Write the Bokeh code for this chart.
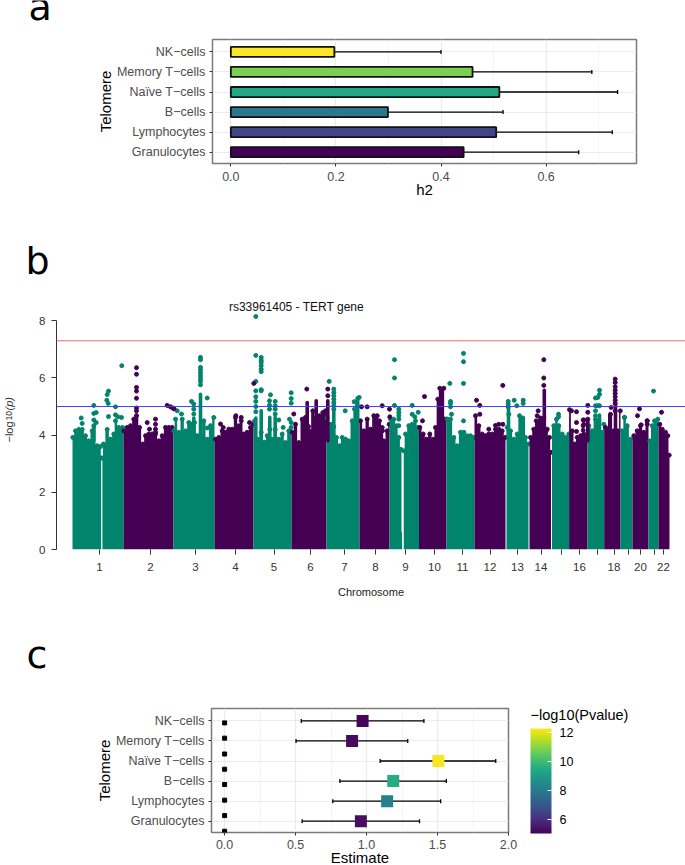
from bokeh.plotting import figure
from bokeh.layouts import column, row
from bokeh.models import Label, Span, FixedTicker, ColorBar, LinearColorMapper
from bokeh.palettes import Viridis256
from bokeh.embed import file_html
from bokeh.resources import INLINE
from math import pi

# ---------- data ----------
cell_labels = ["Granulocytes", "Lymphocytes", "B−cells", "Naïve T−cells", "Memory T−cells", "NK−cells"]
h2_value = [0.443, 0.505, 0.299, 0.511, 0.460, 0.197]
h2_upper = [0.662, 0.726, 0.518, 0.736, 0.687, 0.400]
h2_color = ["#440154", "#414487", "#2A788E", "#22A884", "#7AD151", "#FDE725"]

est_value = [0.960, 1.145, 1.188, 1.506, 0.898, 0.972]
est_lower = [0.546, 0.762, 0.812, 1.096, 0.503, 0.540]
est_upper = [1.373, 1.522, 1.562, 1.910, 1.290, 1.404]
est_pval = [5.3, 8.2, 9.5, 12.2, 5.2, 5.1]
zero_rows = [4.9, 4.14, 3.35, 2.59, 1.83, 1.05, 0.28, -0.5]

# Genome positions are in bins of roughly 4.8 Mb, counted from the start of chromosome 1
chrom_start = [0, 51, 101, 142, 181, 219, 254, 287, 317, 346.5, 374, 402, 434, 457, 479.5, 496.6, 515, 531.7, 548, 560, 576, 586]
chrom_end = [51, 101, 142, 181, 219, 254, 287, 317, 346.5, 374, 402, 433, 456, 478.5, 496.6, 515, 531.7, 548, 560, 576, 586, 597]
chrom_tick = [27, 78, 123, 163, 201.5, 238, 272, 303, 333, 362, 390, 417.5, 445, 468.5, 489, 507, 525, 541.5, 555.6, 568, 581.5, 591]
hidden_tick_labels = [15, 17, 19, 21]

chr1 = [(0.3,3.92),(3,4.15),(6.3,4.2),(9.7,4.2),(13,3.98),(16.3,3.8),(19.7,4.15),(21.3,4.33),(24.7,3.63),(28,3.6),(28.6,3.2),(28.7,0),(29.8,0),(30,3.2),(31,3.69),(34.7,4.2),(38,3.86),(41.3,4.04),(43,4.5),(46.3,4.27),(50,4.27)]
chr2 = [(51.3,4.15),(54.7,4.27),(58,4.33),(61.3,4.56),(64,4.68),(67,4.27),(70.3,3.69),(73,3.98),(76.3,4.04),(79.7,4.04),(83,4.1),(86.3,3.8),(89.7,3.98),(93,4.27),(96.3,4.27),(99.7,4.27)]
chr3 = [(101.3,4.15),(103,4.56),(106.3,4.1),(109.7,4.56),(113,4.15),(116.3,4.44),(119.7,4.39),(122,4.44),(124.7,3.98),(128,4.0),(131.3,4.5),(134.7,3.86),(138,4.33),(141.3,4.62)]
chr4 = [(143,3.86),(146.3,3.92),(149.7,4.15),(153,4.1),(156.3,4.21),(159.7,4.21),(163,4.62),(166.3,4.33),(168.7,4.5),(171.3,4.04),(174.7,4.1),(178,4.27),(180.7,4.39)]
chr5 = [(182,4.5),(185.3,3.86),(188.7,4.1),(192,3.75),(194.7,3.98),(197.3,4.2),(199.7,3.86),(202.7,4.2),(206.3,3.86),(209.7,4.04),(213,3.74),(216.3,4.15),(218.7,4.27)]
chr6 = [(219.7,4.1),(223,4.38),(226.3,3.74),(229.7,4.56),(233,4.62),(236,4.3),(237,4.15),(240.3,4.85),(243.7,4.6),(247,4.68),(250.3,4.79),(253,4.85)]
chr7 = [(254.7,4.6),(258,4.38),(261.3,4.3),(264,3.92),(267,3.63),(269.7,3.92),(273,3.86),(276.3,3.8),(279.7,4.5),(282,4.91),(284.7,5.03),(286.7,5.32)]
chr8 = [(288,4.5),(291.3,4.15),(294.7,4.56),(298,4.21),(301.3,4.68),(304.7,4.68),(307,4.5),(310,4.15),(311.3,3.8),(314.7,4.15),(316.7,4.38)]
chr9 = [(318,4.56),(321.3,4.56),(324,4.33),(326.3,3.92),(328.5,3.5),(329.5,0.6),(329.7,0),(331.2,0),(331.3,3.45),(333,4.04),(336.3,4.33),(339.7,4.38),(343,4.5),(345.3,4.27)]
chr10 = [(347.3,4.27),(350.7,4.04),(354,3.86),(357.3,4.04),(360.7,3.86),(363,4.27),(365.3,5.26),(367.3,5.64),(371.3,5.64),(372,4.56),(373.6,4.56)]
chr11 = [(374.7,4.56),(378,4.56),(381.3,3.92),(384.7,3.63),(388,4.1),(391.3,4.1),(394.7,3.98),(398,3.98),(401.3,3.92)]
chr12 = [(403,4.68),(406.3,4.33),(409.7,4.04),(413,3.98),(416.3,4.04),(419.7,4.04),(423,4.21),(426.3,4.21),(429.7,4.15),(432.8,3.92)]
chr13 = [(434.7,4.27),(436.3,4.73),(438,4.15),(441.3,3.86),(444.7,4.04),(447,4.68),(450.3,4.6),(453,3.92),(455.8,3.69)]
chr14 = [(458,3.92),(461.3,4.21),(463.7,4.5),(468,4.56),(471.3,4.6),(473.7,4.15),(477,3.92),(478.4,3.4)]
chr15 = [(481.3,4.33),(484,4.56),(486.3,4.33),(489.7,4.04),(493,3.92),(496.3,4.04)]
chr16 = [(497,4.89),(499.7,4.15),(502.3,3.69),(504.7,3.92),(508,3.98),(511.3,4.04),(513,3.98)]
chr17 = [(516.3,4.33),(519.7,4.15),(523,4.56),(526.3,4.5),(529.7,4.1),(531.3,4.38)]
chr18 = [(533,4.27),(538,4.73),(541.3,4.15),(545.3,4.15),(547.8,4.85)]
chr19 = [(549.7,4.15),(552,4.62),(554.7,4.33),(558,3.86)]
chr20 = [(561.3,3.98),(564.7,4.15),(568,4.33),(571.3,4.1),(574.7,4.5)]
chr21 = [(577.3,3.8),(579.7,4.33),(582,4.5),(585.3,4.56)]
chr22 = [(587.3,4.38),(589.7,4.21),(593,4.1),(595.3,3.98),(596.7,3.3)]
chrom_tops = [chr1, chr2, chr3, chr4, chr5, chr6, chr7, chr8, chr9, chr10, chr11, chr12, chr13, chr14, chr15, chr16, chr17, chr18, chr19, chr20, chr21, chr22]

# unbroken runs of hits: genome bin, highest value
odd_runs = [(21.3,4.33),(128,5.43),(121.3,4.6),(183.3,4.6),(188.7,4.85),(197.3,4.62),(202.7,4.62),(261.3,4.9),(284.7,5.3),(436,4.95),(450.7,4.6),(523,4.6),(527,4.7)]
even_runs = [(64,4.7),(234.7,5.14),(243.7,5.2),(255.3,5.2),(369,5.3),(471.8,5.57),(543,5.09),(515.3,4.5)]

odd_hits = [(49.3,6.43),(36,5.54),(34.7,5.42),(34.3,5.22),(35.7,5.11),(36,4.65),(21.3,5.04),(23.7,4.79),(21.3,4.76),(21.3,4.53),(23.7,4.44),(8.7,4.6),(9.7,4.41),(43,4.99),(43,4.71),(45.3,4.64),(49,4.62),
    (128,6.72),(128,6.64),(128,6.37),(128,6.27),(128,6.17),(128,6.08),(128,5.98),(128,5.88),(128,5.76),(134.7,5.3),(119,5.18),(121.3,5.09),(121.3,4.91),(121.3,4.74),(104.7,4.85),(109,4.74),(134.7,4.25),
    (183.3,8.15),(183.3,6.79),(188.7,6.72),(188.7,6.62),(188.7,6.54),(188.7,6.43),(188.7,6.31),(188.7,6.22),(183.3,5.88),(183.3,5.55),(183.3,5.34),(183.3,5.18),(183.3,5.0),(183.3,4.82),(188.7,5.59),(188.7,5.55),(198,5.41),(197,5.2),(197,5.05),(197,4.91),(202.7,5.18),(202.7,5.03),(202.7,4.91),(202.7,4.74),(206.3,4.53),(210.7,4.27),(218.7,5.48),(218.7,5.28),(218.7,5.12),(217,4.56),(218.7,4.44),
    (256.7,5.88),(261.3,5.61),(261.3,5.49),(261.3,5.38),(261.3,5.26),(261.3,5.14),(261.3,5.03),(261.3,4.91),(281.7,5.17),(272.7,4.85),
    (322,6.64),(322,6.0),(322,5.04),(326.3,4.91),(326.3,4.79),(326.3,4.68),(326.3,4.56),(326.3,4.33),(339.7,5.04),(339.7,4.73),(342.3,4.64),(345.7,4.8),
    (377.3,5.81),(378,5.18),(378,5.11),(378,4.99),(379,4.73),(391,6.86),(391,6.57),(391,5.81),(391,4.5),
    (435.7,5.18),(435.7,5.09),(435.7,4.99),(441.7,5.22),(444.3,5.03),(450.7,5.22),(450.7,5.11),(486,4.73),(486,4.64),
    (527,5.57),(527,5.43),(525.3,5.32),(523,5.3),(523,5.03),(525.3,5.03),(527,5.03),(523,4.85),(523,4.68),(552,4.62),(581,5.54)]
even_hits = [(64,6.36),(64,6.13),(64,5.67),(64,5.54),(64,5.29),(64,4.95),(64,4.85),(74.7,4.44),(83,4.56),(83,4.38),(83,4.21),(83,4.04),(77,4.21),(94.7,5.04),(98,4.99),(100.3,4.95),(101.5,4.92),
    (163.3,4.68),(168.7,4.62),(177,4.44),(148,4.39),(150.7,4.27),(181.3,5.81),
    (234.3,5.61),(221.3,4.74),(255.3,5.61),(255.3,5.38),(289,4.99),(294.7,4.99),(309.7,5.03),(309.7,4.27),(317,4.91),(317.3,4.64),
    (352,5.35),(350,4.5),(404,5.22),(407.3,5.04),(407.3,4.73),(416.3,4.21),(430.3,5.74),(423,4.34),(426.3,4.38),(430.3,4.38),
    (471.3,6.64),(471.3,6.0),(471.3,5.74),(465.7,4.85),(464.7,4.68),(468,4.6),(474.7,4.21),
    (499,4.85),(504,4.82),(504,4.44),(504,4.13),(511.3,4.53),(511.3,4.38),(515.3,5.04),(515.3,4.8),(515.3,4.56),(510.7,4.53),(510.7,4.33),(510.7,4.17),
    (542.7,5.96),(542.7,5.84),(542.7,5.69),(542.7,5.57),(542.7,5.46),(542.7,5.34),(542.7,5.22),(542.7,5.11),(538.7,4.97),(542.7,4.85),(567,4.92),(565,4.68),(568.7,4.36),(574.7,4.5),(574.7,4.38),(589,4.8)]

genome_wide = 7.3
suggestive = 5
TEAL = "#00846B"
PURPLE = "#440154"
SANS = "Liberation Sans"

rows = list(range(6))


def theme(p, xlabel, ylabel):
    p.outline_line_color = "#7a7a7a"
    p.outline_line_width = 1.5
    p.xgrid.grid_line_color = "#ebebeb"
    p.ygrid.grid_line_color = "#ebebeb"
    p.xgrid.grid_line_width = 1.2
    p.ygrid.grid_line_width = 1.2
    p.xgrid.minor_grid_line_color = "#f0f0f0"
    p.xgrid.minor_grid_line_width = 0.7
    p.xaxis.axis_label = xlabel
    p.yaxis.axis_label = ylabel
    for ax in (p.xaxis[0], p.yaxis[0]):
        ax.axis_line_color = None
        ax.major_tick_line_color = "#333333"
        ax.major_tick_in = 0
        ax.major_tick_out = 3
        ax.minor_tick_line_color = None
        ax.major_label_text_font = SANS
        ax.major_label_text_font_size = "12.5px"
        ax.major_label_text_color = "#4d4d4d"
        ax.axis_label_text_font = SANS
        ax.axis_label_text_font_style = "normal"
        ax.axis_label_text_font_size = "15px"
        ax.axis_label_text_color = "#000000"
    p.yaxis.ticker = FixedTicker(ticks=rows)
    p.yaxis.major_label_overrides = {r: c for r, c in zip(rows, cell_labels)}
    p.yaxis.major_label_standoff = 4
    p.yaxis.axis_label_standoff = 0


def strip(width, height):
    """A bare figure whose frame fills it, for texts outside the plots; its units are pixels from the top left."""
    s = figure(width=width, height=height, output_backend="svg", toolbar_location=None,
               x_range=(0, width), y_range=(height, 0),
               min_border_left=0, min_border_right=0, min_border_top=0, min_border_bottom=0,
               frame_width=width, frame_height=height)
    s.axis.visible = False
    s.grid.visible = False
    s.outline_line_color = None
    return s


def letter(text, x, y, width, height):
    s = strip(width, height)
    s.add_layout(Label(x=x, y=y, text=text, text_font="DejaVu Sans", text_font_size="38px",
                       text_color="#000000", text_baseline="alphabetic"))
    return s


# ---------- panel a ----------
a = figure(width=685, height=198, output_backend="svg", toolbar_location=None,
           x_range=(-0.0349, 0.772), y_range=(-0.563, 5.618),
           min_border_left=212, min_border_right=49, min_border_top=9, min_border_bottom=65,
           frame_width=424, frame_height=124)
theme(a, "h2", "Telomere")
a.xaxis.ticker = FixedTicker(ticks=[0, 0.2, 0.4, 0.6], minor_ticks=[0.1, 0.3, 0.5, 0.7])
a.xaxis.major_label_overrides = {0: "0.0", 0.2: "0.2", 0.4: "0.4", 0.6: "0.6"}
a.xaxis.major_label_standoff = 4
a.xaxis.axis_label_standoff = -3
a.segment(h2_value, rows, h2_upper, rows, line_color="#000000", line_width=1.3)
a.segment(h2_upper, [r - 0.1 for r in rows], h2_upper, [r + 0.1 for r in rows], line_color="#000000", line_width=1.3)
a.hbar(y=rows, left=0, right=h2_value, height=0.5, fill_color=h2_color, line_color="#111111", line_width=1.8)

# ---------- panel b ----------
b = figure(width=667, height=320, output_backend="svg", toolbar_location=None,
           x_range=(-16, 613), y_range=(0, 8.71),
           min_border_left=38, min_border_right=0, min_border_top=0, min_border_bottom=71,
           frame_width=629, frame_height=249)
b.outline_line_color = None
b.grid.visible = False
for i, top in enumerate(chrom_tops):
    colour = TEAL if i % 2 == 0 else PURPLE
    xs = [chrom_start[i]] + [t[0] for t in top] + [chrom_end[i]]
    ys = [top[0][1]] + [t[1] for t in top] + [top[-1][1]]
    b.varea_step(x=xs, y1=[0] * len(xs), y2=ys, step_mode="center", fill_color=colour)
    b.scatter([t[0] for t in top if t[1] > 1], [t[1] for t in top if t[1] > 1], size=4, color=colour)
b.segment([r[0] for r in odd_runs], [3.8] * len(odd_runs), [r[0] for r in odd_runs], [r[1] for r in odd_runs],
          line_color=TEAL, line_width=3.6, line_cap="round")
b.segment([r[0] for r in even_runs], [3.8] * len(even_runs), [r[0] for r in even_runs], [r[1] for r in even_runs],
          line_color=PURPLE, line_width=3.6, line_cap="round")
b.scatter([h[0] for h in odd_hits], [h[1] for h in odd_hits], size=4, color=TEAL)
b.scatter([h[0] for h in even_hits], [h[1] for h in even_hits], size=4, color=PURPLE)
b.add_layout(Span(location=genome_wide, dimension="width", line_color="#f06a6a", line_width=1))
b.add_layout(Span(location=suggestive, dimension="width", line_color="#4040e8", line_width=1))
b.yaxis.ticker = FixedTicker(ticks=[0, 2, 4, 6, 8])
b.yaxis.bounds = (0, 8)
b.xaxis.ticker = FixedTicker(ticks=chrom_tick)
b.xaxis.major_label_overrides = {t: ("" if n + 1 in hidden_tick_labels else str(n + 1)) for n, t in enumerate(chrom_tick)}
for ax in (b.xaxis[0], b.yaxis[0]):
    ax.major_tick_line_color = "#333333"
    ax.major_tick_in = 0
    ax.major_tick_out = 5
    ax.minor_tick_line_color = None
    ax.major_label_text_font = SANS
    ax.major_label_text_font_size = "11.5px"
    ax.major_label_text_color = "#333333"
b.xaxis.axis_line_color = None
b.yaxis.axis_line_color = "#333333"
b.yaxis.major_label_orientation = "horizontal"
b.xaxis.major_label_standoff = 8
b.yaxis.major_label_standoff = 6
b.xaxis.axis_label = "Chromosome"
b.xaxis.axis_label_text_font = SANS
b.xaxis.axis_label_text_font_style = "normal"
b.xaxis.axis_label_text_font_size = "11px"
b.xaxis.axis_label_text_color = "#222222"
b.xaxis.axis_label_standoff = 12
b.add_layout(Label(x=224, y=8.49, text="rs33961405 - TERT gene", text_font=SANS, text_font_size="12px",
                   text_color="#111111", text_align="center", text_baseline="middle"))
b_left = strip(18, 320)
for txt, yc, size, style in [("−log", 142, "11px", "normal"), ("10", 120, "8.5px", "normal"),
                             ("(p)", 110, "11px", "italic")]:
    b_left.add_layout(Label(x=8, y=yc, text=txt, angle=pi / 2, text_font=SANS, text_font_size=size,
                            text_font_style=style, text_color="#333333", text_baseline="middle"))

# ---------- panel c ----------
c = figure(width=530, height=159, output_backend="svg", toolbar_location=None,
           x_range=(-0.0924, 2.0), y_range=(-0.563, 5.618),
           min_border_left=211, min_border_right=22, min_border_top=2, min_border_bottom=33,
           frame_width=297, frame_height=124)
theme(c, "Estimate", "Telomere")
c.xaxis.ticker = FixedTicker(ticks=[0, 0.5, 1, 1.5, 2], minor_ticks=[0.25, 0.75, 1.25, 1.75])
c.xaxis.major_label_overrides = {0: "0.0", 0.5: "0.5", 1: "1.0", 1.5: "1.5", 2: "2.0"}
c.xaxis.major_label_standoff = 3
c.xaxis.axis_label_standoff = -3
c.segment(est_lower, rows, est_upper, rows, line_color="#000000", line_width=1.3)
c.segment(est_lower, [r - 0.1 for r in rows], est_lower, [r + 0.1 for r in rows], line_color="#000000", line_width=1.3)
c.segment(est_upper, [r - 0.1 for r in rows], est_upper, [r + 0.1 for r in rows], line_color="#000000", line_width=1.3)
c.scatter(x=est_value, y=rows, marker="square", size=12,
          fill_color=[Viridis256[min(255, int((v - 5.0) / 7.26 * 256))] for v in est_pval], line_color=None)
c.scatter(x=[0] * len(zero_rows), y=zero_rows, marker="square", size=4, color="#000000")

legend = strip(155, 159)
mapper = LinearColorMapper(palette=Viridis256, low=5.0, high=12.26)
bar = ColorBar(color_mapper=mapper, ticker=FixedTicker(ticks=[6, 8, 10, 12]), width=21, height=105,
               location=(0, 32), padding=0, orientation="vertical", major_label_text_font=SANS,
               major_label_text_font_size="12.5px",
               major_label_text_color="#000000", major_tick_line_color="#ffffff", major_tick_in=4,
               major_tick_out=0, label_standoff=8, bar_line_color=None, border_line_color=None,
               background_fill_color=None)
legend.add_layout(bar, "center")
legend.add_layout(Label(x=0, y=8, text="−log10(Pvalue)", text_font=SANS, text_font_size="14.5px",
                        text_color="#000000", text_baseline="middle"))

page = column(
    letter("a", 28, 6, 685, 30),
    row(a),
    letter("b", 25, 32, 685, 72),
    row(column(b_left), column(b), spacing=0),
    letter("c", 26, 34, 685, 86),
    row(column(c), column(legend), spacing=0),
    spacing=0,
)
open("out.html", "w").write(file_html(page, INLINE))
